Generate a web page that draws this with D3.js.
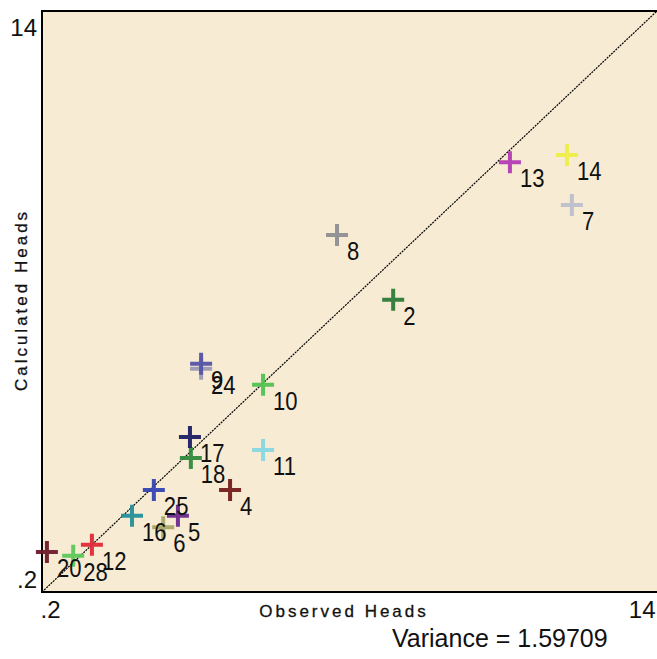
<!DOCTYPE html>
<html>
<head>
<meta charset="utf-8">
<script src="https://cdn.jsdelivr.net/npm/d3@7"></script>
<style>
  html, body { margin: 0; padding: 0; background: #ffffff; }
  svg { display: block; }
  text { font-family: "Liberation Sans", Arial, sans-serif; fill: #111; }
</style>
</head>
<body>
<svg id="chart" width="657" height="659"></svg>
<script>
// Observation wells: id, observed head, calculated head, marker colour
const wellIds    = ["20", "28", "12", "16", "6", "5", "25", "4", "18", "17", "11", "10", "24", "9", "2", "8", "13", "14", "7"];
const observed   = [0.31, 0.90, 1.32, 2.22, 2.92, 3.25, 2.71, 4.42, 3.54, 3.52, 5.16, 5.16, 3.77, 3.77, 8.08, 6.82, 10.70, 11.98, 12.09];
const calculated = [1.15, 1.06, 1.32, 2.01, 1.74, 2.01, 2.62, 2.62, 3.38, 3.88, 3.57, 5.12, 5.50, 5.62, 7.14, 8.68, 10.41, 10.58, 9.39];
const markerColors = ["#6e1a2a", "#5cc85a", "#e02a36", "#24909a", "#a8a868", "#6a2a8c", "#3444b4", "#741c1c", "#2f8a3c", "#1e1e62", "#86d8e2", "#52c252", "#9a9ab4", "#5454a6", "#2c7a38", "#8e8e92", "#b43cb4", "#eeee48", "#bcc0cc"];

const axisRange = [0.2, 14];
const tickLabels = [".2", "14"];
const varianceText = "Variance = 1.59709";

const svg = d3.select("#chart");
const plotLeft = 42, plotRight = 657, plotTop = 11, plotBottom = 592;

const x = d3.scaleLinear().domain(axisRange).range([plotLeft, plotRight]);
const y = d3.scaleLinear().domain(axisRange).range([plotBottom, plotTop]);

// plot background and frame
svg.append("rect")
  .attr("x", plotLeft).attr("y", plotTop)
  .attr("width", plotRight - plotLeft + 4).attr("height", plotBottom - plotTop)
  .attr("fill", "#f7ebd3")
  .attr("stroke", "#000").attr("stroke-width", 2);

// 1:1 line
svg.append("line")
  .attr("x1", x(axisRange[0])).attr("y1", y(axisRange[0]))
  .attr("x2", x(axisRange[1])).attr("y2", y(axisRange[1]))
  .attr("stroke", "#000").attr("stroke-width", 1.2)
  .attr("stroke-dasharray", "2,1");

// markers
const wells = wellIds.map((id, i) => ({ id, obs: observed[i], calc: calculated[i], color: markerColors[i] }));
const arm = 11;
const markers = svg.append("g");
wells.forEach(d => {
  const cx = x(d.obs), cy = y(d.calc);
  markers.append("path")
    .attr("d", `M${cx - arm},${cy}H${cx + arm}M${cx},${cy - arm}V${cy + arm}`)
    .attr("stroke", d.color).attr("stroke-width", 4).attr("fill", "none")
    .attr("opacity", 0.95);
});
// well labels (slightly condensed, tall digits)
wells.forEach(d => {
  svg.append("text")
    .attr("transform", `translate(${x(d.obs) + 10},${y(d.calc) + 25}) scale(0.92,1.08)`)
    .attr("font-size", 24)
    .text(d.id);
});

// axes with only the end values labelled
const xAxis = svg.append("g")
  .attr("transform", `translate(0,${plotBottom})`)
  .call(d3.axisBottom(x).tickValues(axisRange).tickSize(0).tickFormat((d, i) => tickLabels[i]));
xAxis.select(".domain").remove();
xAxis.selectAll("text")
  .attr("font-size", 24).attr("dy", "1.08em").attr("y", 0)
  .attr("text-anchor", (d, i) => i === 0 ? "start" : "end")
  .attr("dx", -2)
  .style("font-family", "Liberation Sans, Arial, sans-serif").attr("fill", "#111");

const yAxis = svg.append("g")
  .attr("transform", `translate(${plotLeft},0)`)
  .call(d3.axisLeft(y).tickValues(axisRange).tickSize(0).tickFormat((d, i) => tickLabels[i]));
yAxis.select(".domain").remove();
yAxis.selectAll("text")
  .attr("font-size", 24).attr("x", -5)
  .attr("dy", (d, i) => i === 0 ? "-0.2em" : "1.0em")
  .attr("text-anchor", "end")
  .style("font-family", "Liberation Sans, Arial, sans-serif").attr("fill", "#111");

// axis titles
svg.append("text")
  .attr("x", 344).attr("y", 617)
  .attr("text-anchor", "middle")
  .attr("font-size", 17).attr("letter-spacing", 3)
  .attr("stroke", "#111").attr("stroke-width", 0.3)
  .text("Observed Heads");

svg.append("text")
  .attr("transform", `translate(27,${(210 + 390) / 2}) rotate(-90)`)
  .attr("text-anchor", "middle")
  .attr("font-size", 17).attr("letter-spacing", 3)
  .attr("stroke", "#111").attr("stroke-width", 0.3)
  .text("Calculated Heads");

svg.append("text")
  .attr("x", 392).attr("y", 647)
  .attr("font-size", 25)
  .text(varianceText);
</script>
</body>
</html>
